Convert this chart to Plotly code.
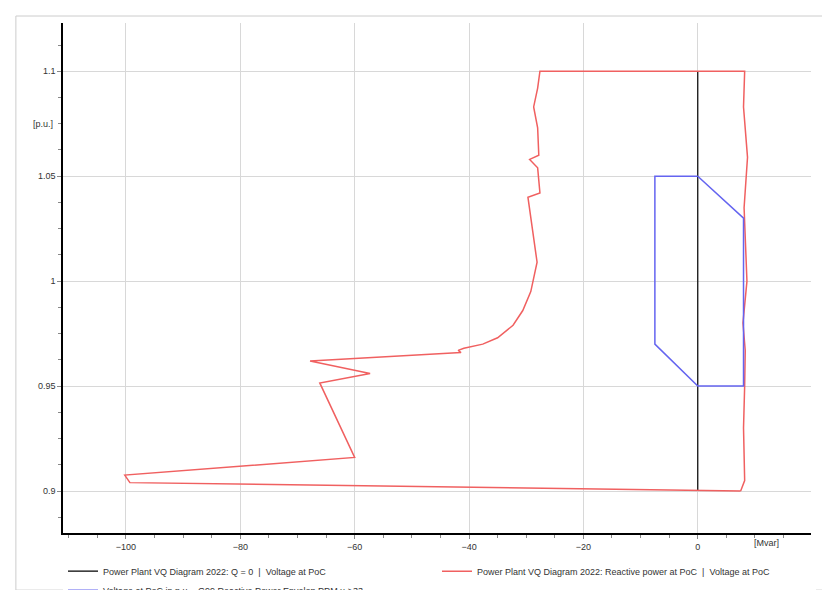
import plotly.graph_objects as go

# reactive power at PoC (Mvar) vs voltage (p.u.)
red_q = [7.5, -99.3, -100.2, -60, -66.1, -57.3, -67.8, -41.4, -41.9, -40.9, -37.6, -35, -32.3, -30.6,
         -29.2, -28.1, -29.7, -27.6, -28, -29.4, -27.8, -28, -28.7, -28, -27.6,
         8.2, 8, 8.7, 8.1, 8.6, 7.9, 8.3, 8.2, 8.0, 8.2, 7.5]
red_v = [0.9, 0.904, 0.9076, 0.916, 0.9515, 0.956, 0.962, 0.966, 0.967, 0.968, 0.970, 0.973, 0.979, 0.986,
         0.995, 1.009, 1.04, 1.042, 1.054, 1.058, 1.06, 1.073, 1.083, 1.092, 1.1,
         1.1, 1.083, 1.059, 1.035, 1.0, 0.98, 0.967, 0.95, 0.93, 0.905, 0.9]
blue_q = [0, 8, 8, 0, -7.5, -7.5, 0]
blue_v = [1.05, 1.03, 0.95, 0.95, 0.97, 1.05, 1.05]
black_q = [0, 0]
black_v = [0.9, 1.1]
x_ticks = [-100, -80, -60, -40, -20, 0]
y_ticks = [0.9, 0.95, 1.0, 1.05, 1.1]

fig = go.Figure()
fig.add_trace(go.Scatter(x=black_q, y=black_v, mode="lines", line=dict(color="black", width=1.2),
                         name="Power Plant VQ Diagram 2022: Q = 0  |  Voltage at PoC"))
fig.add_trace(go.Scatter(x=red_q, y=red_v, mode="lines", line=dict(color="#f06060", width=1.5),
                         name="Power Plant VQ Diagram 2022: Reactive power at PoC  |  Voltage at PoC"))
fig.add_trace(go.Scatter(x=blue_q, y=blue_v, mode="lines", line=dict(color="#6464f0", width=1.5),
                         name="Voltage at PoC in p.u. - G99 Reactive Power Envelop PPM u >33"))

fig.add_annotation(x=12, y=0.88, yref="y", text="[Mvar]", showarrow=False, yshift=-10,
                   font=dict(size=9, color="#333"))
fig.add_annotation(x=0, xref="paper", y=1.075, text="[p.u.]", showarrow=False, xanchor="right", xshift=-8,
                   font=dict(size=9, color="#333"))

fig.update_layout(
    width=830, height=590, plot_bgcolor="white", paper_bgcolor="white",
    font=dict(family="Liberation Sans, Arial", size=9, color="#333"),
    margin=dict(l=55, r=27, t=15, b=65, autoexpand=False),
    showlegend=True,
    legend=dict(orientation="h", x=0.0, y=0.07, yref="container", xanchor="left", yanchor="top",
                entrywidth=0.5, entrywidthmode="fraction", font=dict(size=9), tracegroupgap=0),
    shapes=[dict(type="rect", xref="paper", yref="paper", x0=-0.063, x1=1.025, y0=-0.112, y1=1.0137,
                 line=dict(color="#ccc", width=1))],
)
fig.update_xaxes(range=[-111, 19.8], tickvals=x_ticks, showgrid=True, gridcolor="#d8d8d8",
                 zeroline=False, showline=True, linecolor="black", linewidth=1.5,
                 ticks="outside", ticklen=4, tickcolor="#888",
                 minor=dict(dtick=5, ticks="outside", ticklen=3, tickcolor="#888"))
fig.update_yaxes(range=[0.88, 1.123], tickvals=y_ticks, ticktext=["0.9", "0.95", "1", "1.05", "1.1"],
                 showgrid=True, gridcolor="#d8d8d8", zeroline=False, showline=True,
                 linecolor="black", linewidth=1.5, ticks="outside", ticklen=4, tickcolor="#888",
                 minor=dict(dtick=0.0125, ticks="outside", ticklen=3, tickcolor="#888"))

fig.write_html("out.html")
